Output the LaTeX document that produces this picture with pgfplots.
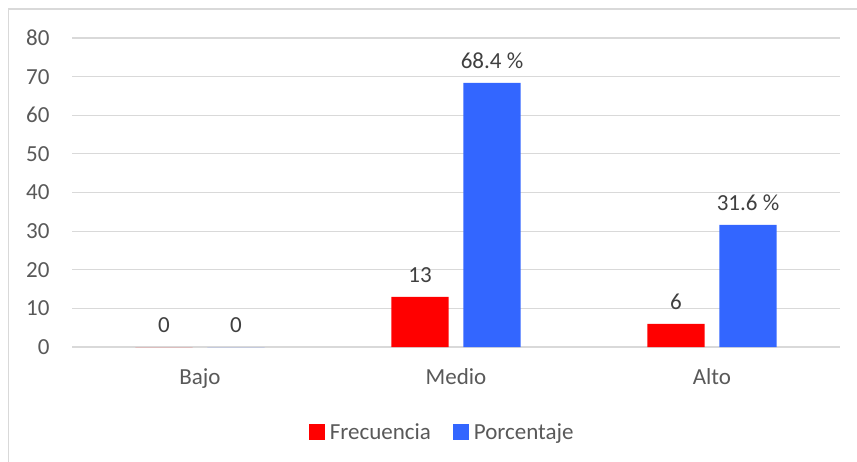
\documentclass[border=0pt]{standalone}
\usepackage{fontspec}
\setmainfont{Carlito}
\usepackage{pgfplots}
\pgfplotsset{compat=1.18}
\definecolor{gridc}{HTML}{D9D9D9}
\definecolor{txt}{HTML}{595959}
\definecolor{lbl}{HTML}{404040}
\definecolor{redb}{HTML}{FF0000}
\definecolor{blueb}{HTML}{3366FF}
\begin{document}
\begin{tikzpicture}[x=1pt,y=1pt,font=\fontsize{23}{27}\selectfont]
\useasboundingbox (0,0) rectangle (857,461);
\clip (0,0) rectangle (857,461);
\fill[white] (0,0) rectangle (857,461);
\draw[gridc,line width=1.2pt] (8.5,-10) rectangle (880,452);
\begin{axis}[
  at={(72pt,114pt)}, anchor=south west,
  scale only axis, width=768pt, height=309pt,
  xmin=-0.5, xmax=2.5, ymin=0, ymax=80,
  ybar, bar width=0.223,
  xtick={0,1,2}, xticklabels={Bajo,Medio,Alto},
  ytick={0,10,...,80},
  /pgf/number format/assume math mode=true,
  ymajorgrids, grid style={gridc, line width=1.2pt},
  axis x line*=bottom, axis y line*=left,
  x axis line style={gridc, line width=1.2pt},
  y axis line style={draw=none},
  major tick length=0pt,
  tick label style={text=txt},
  yticklabel style={xshift=-19pt},
  xticklabel style={yshift=-18pt},
  point meta=explicit symbolic,
  nodes near coords,
  every node near coord/.append style={text=lbl, yshift=11pt},
  legend columns=2,
  legend style={draw=none, at={(0.482,-0.275)}, anchor=center, text=txt,
    /tikz/every even column/.append style={column sep=20pt}},
  legend image code/.code={\fill[#1] (-6pt,-8pt) rectangle (10pt,8pt);},
]
\addplot[fill=redb, draw=none, bar shift=-0.1406] coordinates {(0,0) [0] (1,13) [13] (2,6) [6]};
\addplot[fill=blueb, draw=none, bar shift=0.1406]
  coordinates {(0,0) [0] (1,68.4) [68.4 \%] (2,31.6) [31.6 \%]};
\legend{\hspace{3pt}Frecuencia,\hspace{3pt}Porcentaje}
\end{axis}
\end{tikzpicture}
\end{document}
